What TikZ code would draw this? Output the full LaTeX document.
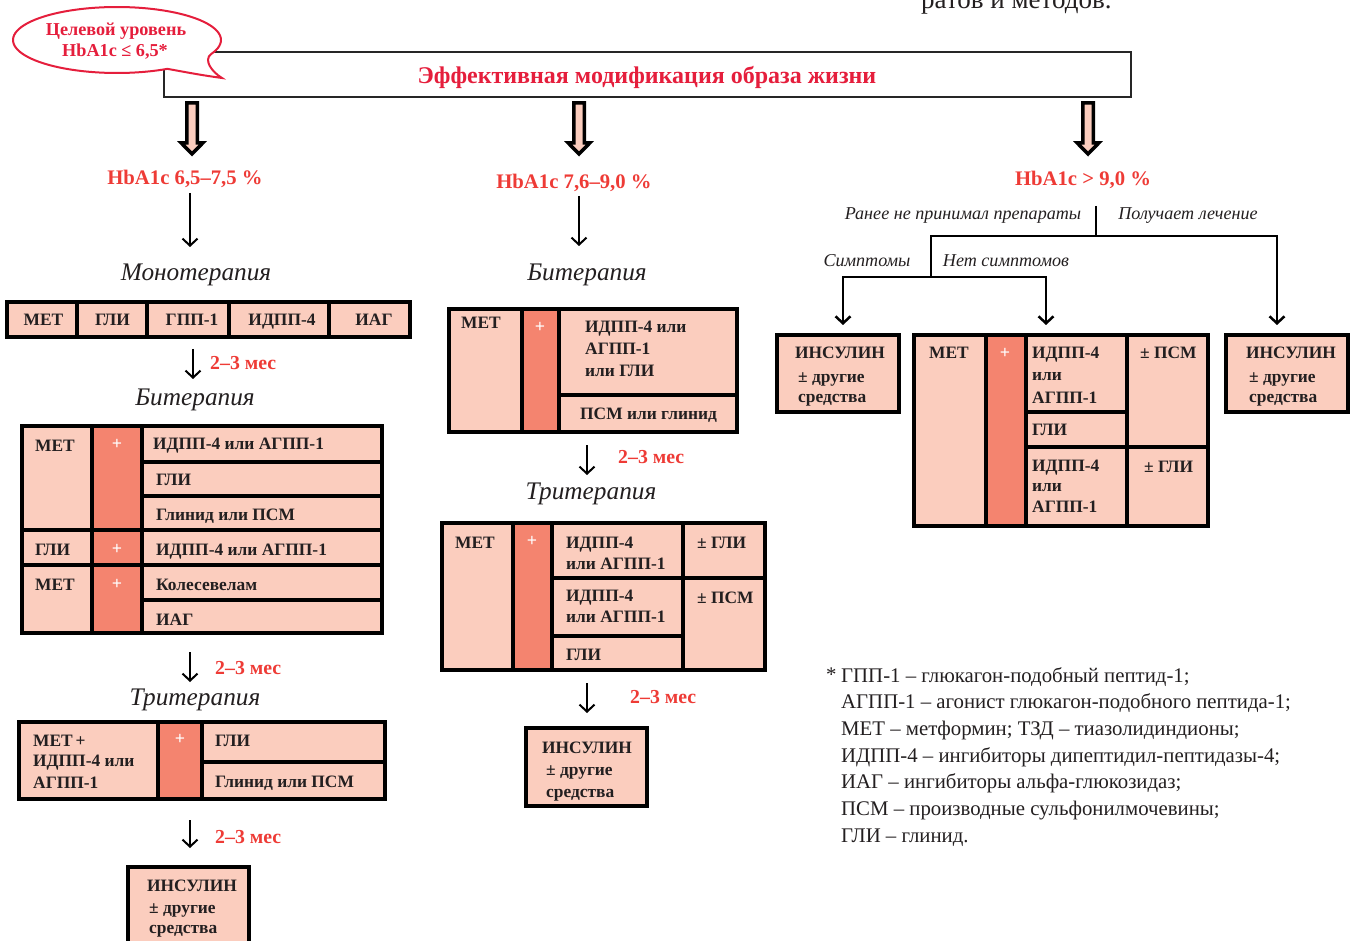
\documentclass[tikz,border=0pt]{standalone}
\usepackage{fontspec}
\setmainfont{Liberation Serif}
\usetikzlibrary{arrows.meta,fit}
\definecolor{pinkL}{HTML}{FBCDBE}
\definecolor{salm}{HTML}{F4846F}
\definecolor{redL}{HTML}{EE3B36}
\definecolor{crim}{HTML}{E51E3C}
\definecolor{txt}{HTML}{231F20}
\newcommand{\mkcell}[6]{\node[fit={(#2,#3) (#4,#5)}, inner sep=0pt, outer sep=0pt, fill=#6, draw=none] (#1) {};}
\newcommand{\txw}[4]{\node[tt,anchor=base west] (#1) at (#2,#3) {#4};}
\newcommand{\txc}[4]{\node[tt,anchor=base] (#1) at (#2,#3) {#4};}
\newcommand{\pls}[3]{\node[plus] (#1) at (#2,#3) {+};}
\newcommand{\blockarr}[1]{\draw[blockarrow] (#1) ++(-5.25,0) -- ++(0,40) -- ++(-5.5,0) -- ++(10.75,11) -- ++(10.75,-11) -- ++(-5.5,0) -- ++(0,-40) -- cycle;}
\begin{document}
\begin{tikzpicture}[x=1pt,y=-1pt,
  tbl/.style={draw=black, line width=3.5pt},
  tt/.style={font=\fontsize{17.4}{20}\selectfont\bfseries, text=txt, inner sep=0pt},
  plus/.style={font=\fontsize{18}{20}\selectfont\bfseries, text=white, inner sep=0pt},
  arr/.style={line width=2pt, -{Straight Barb[length=7pt,width=15pt]}},
  ln/.style={line width=2.5pt},
  lbl/.style={font=\fontsize{20.7}{24}\selectfont\bfseries, text=redL, inner sep=0pt, anchor=base},
  mes/.style={font=\fontsize{19.8}{22}\selectfont\bfseries, text=redL, inner sep=0pt, anchor=base west},
  head/.style={font=\fontsize{25.3}{28}\selectfont\itshape, text=txt, inner sep=0pt, anchor=base},
  cond/.style={font=\fontsize{18.1}{20}\selectfont\itshape, text=txt, inner sep=0pt, anchor=base},
  leg/.style={font=\fontsize{20.8}{24}\selectfont, text=txt, inner sep=0pt, anchor=base west},
  blockarrow/.style={draw=black, line width=3.5pt, fill=pinkL, line join=miter},
]
\useasboundingbox (0,0) rectangle (1355,941);
\clip (0,0) rectangle (1355,941);

% cut-off page text
\node[font=\fontsize{27}{30}\selectfont, text=txt, inner sep=0pt, anchor=base west] (toptext) at (921,9) {ратов и методов.};

% lifestyle box
\node[draw=black!85, line width=2pt, minimum width=967pt, minimum height=45pt, inner sep=0pt] (life) at (647.5,74.5) {};
\node[font=\fontsize{24}{28}\selectfont\bfseries, text=crim, inner sep=0pt, anchor=base] (lifetext) at (647,84) {Эффективная модификация образа жизни};

% callout
\draw[crim, line width=2pt, fill=white] plot[domain=61:385, samples=90, smooth] ({117+104*cos(\x)}, {40+33*sin(\x)})
  .. controls (203,60) and (212,72) .. (222,78) .. controls (200,75) and (185,72) .. cycle;
\node[font=\fontsize{18.2}{20}\selectfont\bfseries, text=crim, inner sep=0pt, anchor=base] (goal1) at (116,36) {Целевой уровень};
\node[font=\fontsize{18.2}{20}\selectfont\bfseries, text=crim, inner sep=0pt, anchor=base] (goal2) at (115,56.5) {HbA1c ≤ 6,5*};

% block arrows
\coordinate (ba1) at (192,103);
\coordinate (ba2) at (579,103);
\coordinate (ba3) at (1088,103);
\blockarr{ba1}
\blockarr{ba2}
\blockarr{ba3}

% ---------- LEFT COLUMN ----------
\node[lbl] (l1) at (185,184.5) {HbA1c 6,5–7,5 \%};
\coordinate (a1s) at (190,193); \coordinate (a1e) at (190,247);
\draw[arr] (a1s) -- (a1e);
\node[head] (mono) at (196,280.5) {Монотерапия};

\mkcell{m1}{7}{302}{77}{337}{pinkL}
\mkcell{m2}{77}{302}{147}{337}{pinkL}
\mkcell{m3}{147}{302}{229}{337}{pinkL}
\mkcell{m4}{229}{302}{329}{337}{pinkL}
\mkcell{m5}{329}{302}{410}{337}{pinkL}
\foreach \c in {m1,m2,m3,m4,m5} \draw[tbl] (\c.south west) rectangle (\c.north east);
\txc{m1t}{43.5}{325.5}{МЕТ}
\txc{m2t}{112.5}{325.5}{ГЛИ}
\txc{m3t}{192}{325.5}{ГПП-1}
\txc{m4t}{282}{325.5}{ИДПП-4}
\txc{m5t}{374}{325.5}{ИАГ}

\coordinate (a2s) at (193,349); \coordinate (a2e) at (193,379);
\draw[arr] (a2s) -- (a2e);
\node[mes] (mes1) at (210,369.5) {2–3 мес};
\node[head] (bi1) at (195,405.5) {Битерапия};

\mkcell{bM1}{22}{426}{92}{530}{pinkL}
\mkcell{bP1}{92}{426}{142}{530}{salm}
\mkcell{bR1}{142}{426}{382}{462}{pinkL}
\mkcell{bR2}{142}{462}{382}{496}{pinkL}
\mkcell{bR3}{142}{496}{382}{530}{pinkL}
\mkcell{bG}{22}{530}{92}{565}{pinkL}
\mkcell{bP2}{92}{530}{142}{565}{salm}
\mkcell{bR4}{142}{530}{382}{565}{pinkL}
\mkcell{bM2}{22}{565}{92}{633}{pinkL}
\mkcell{bP3}{92}{565}{142}{633}{salm}
\mkcell{bR5}{142}{565}{382}{600}{pinkL}
\mkcell{bR6}{142}{600}{382}{633}{pinkL}
\foreach \c in {bM1,bP1,bR1,bR2,bR3,bG,bP2,bR4,bM2,bP3,bR5,bR6} \draw[tbl] (\c.south west) rectangle (\c.north east);
\txw{bM1t}{35}{451}{МЕТ}
\pls{bP1t}{117}{444}
\txw{bR1t}{153}{449}{ИДПП-4 или АГПП-1}
\txw{bR2t}{156}{485}{ГЛИ}
\txw{bR3t}{156}{520}{Глинид или ПСМ}
\txw{bGt}{35}{555}{ГЛИ}
\pls{bP2t}{117}{549}
\txw{bR4t}{156}{555}{ИДПП-4 или АГПП-1}
\txw{bM2t}{35}{590}{МЕТ}
\pls{bP3t}{117}{584}
\txw{bR5t}{156}{590}{Колесевелам}
\txw{bR6t}{156}{625}{ИАГ}

\coordinate (a3s) at (190,652); \coordinate (a3e) at (190,682);
\draw[arr] (a3s) -- (a3e);
\node[mes] (mes2) at (215,674.5) {2–3 мес};
\node[head] (tri1) at (195,705.5) {Тритерапия};

\mkcell{tL}{19}{722}{158}{799}{pinkL}
\mkcell{tP}{158}{722}{202}{799}{salm}
\mkcell{tR1}{202}{722}{385}{762}{pinkL}
\mkcell{tR2}{202}{762}{385}{799}{pinkL}
\foreach \c in {tL,tP,tR1,tR2} \draw[tbl] (\c.south west) rectangle (\c.north east);
\txw{tLt1}{33}{746}{МЕТ\,+}
\txw{tLt2}{33}{766}{ИДПП-4 или}
\txw{tLt3}{33}{788}{АГПП-1}
\pls{tPt}{180}{739}
\txw{tR1t}{215}{746}{ГЛИ}
\txw{tR2t}{215}{787}{Глинид или ПСМ}

\coordinate (a4s) at (190,820); \coordinate (a4e) at (190,848);
\draw[arr] (a4s) -- (a4e);
\node[mes] (mes3) at (215,843.5) {2–3 мес};

\mkcell{insL}{128}{867}{249}{965}{pinkL}
\draw[tbl] (insL.south west) rectangle (insL.north east);
\txc{insLt1}{192}{891}{ИНСУЛИН}
\txw{insLt2}{149}{913}{± другие}
\txw{insLt3}{149}{933}{средства}

% ---------- MIDDLE COLUMN ----------
\node[lbl] (l2) at (574,188.5) {HbA1c 7,6–9,0 \%};
\coordinate (b1s) at (579,196); \coordinate (b1e) at (579,246);
\draw[arr] (b1s) -- (b1e);
\node[head] (bi2) at (587,280.5) {Битерапия};

\mkcell{cM}{449}{309}{522}{432}{pinkL}
\mkcell{cP}{522}{309}{559}{432}{salm}
\mkcell{cR1}{559}{309}{737}{395}{pinkL}
\mkcell{cR2}{559}{395}{737}{432}{pinkL}
\foreach \c in {cM,cP,cR1,cR2} \draw[tbl] (\c.south west) rectangle (\c.north east);
\txw{cMt}{461}{329}{МЕТ}
\pls{cPt}{540}{327}
\txw{cR1a}{585}{333}{ИДПП-4 или}
\txw{cR1b}{585}{355}{АГПП-1}
\txw{cR1c}{585}{377}{или ГЛИ}
\txw{cR2t}{580}{419}{ПСМ или глинид}

\coordinate (b2s) at (587,445); \coordinate (b2e) at (587,475);
\draw[arr] (b2s) -- (b2e);
\node[mes] (mes4) at (618,463.5) {2–3 мес};
\node[head] (tri2) at (591,499.5) {Тритерапия};

\mkcell{nM}{442}{523}{513}{670}{pinkL}
\mkcell{nP}{513}{523}{552}{670}{salm}
\mkcell{nR1}{552}{523}{683}{578}{pinkL}
\mkcell{nR2}{552}{578}{683}{636}{pinkL}
\mkcell{nR3}{552}{636}{683}{670}{pinkL}
\mkcell{nS1}{683}{523}{765}{578}{pinkL}
\mkcell{nS2}{683}{578}{765}{670}{pinkL}
\foreach \c in {nM,nP,nR1,nR2,nR3,nS1,nS2} \draw[tbl] (\c.south west) rectangle (\c.north east);
\txw{nMt}{455}{548}{МЕТ}
\pls{nPt}{532}{541}
\txw{nR1a}{566}{548}{ИДПП-4}
\txw{nR1b}{566}{569}{или АГПП-1}
\txw{nR2a}{566}{601}{ИДПП-4}
\txw{nR2b}{566}{622.5}{или АГПП-1}
\txw{nR3t}{566}{660}{ГЛИ}
\txw{nS1t}{697}{548}{± ГЛИ}
\txw{nS2t}{697}{603}{± ПСМ}

\coordinate (b3s) at (587,683); \coordinate (b3e) at (587,713);
\draw[arr] (b3s) -- (b3e);
\node[mes] (mes5) at (630,703.5) {2–3 мес};

\mkcell{insM}{526}{728}{647}{806}{pinkL}
\draw[tbl] (insM.south west) rectangle (insM.north east);
\txc{insMt1}{587}{753}{ИНСУЛИН}
\txw{insMt2}{546}{775}{± другие}
\txw{insMt3}{546}{797}{средства}

% ---------- RIGHT COLUMN ----------
\node[lbl] (l3) at (1083,185.5) {HbA1c > 9,0 \%};
\coordinate (s0) at (1096,206); \coordinate (s1) at (1096,236);
\coordinate (hL) at (931,236); \coordinate (hR) at (1277,236);
\coordinate (vB) at (931,277);
\coordinate (h2L) at (843,277); \coordinate (h2R) at (1046,277);
\coordinate (e1) at (843,325); \coordinate (e2) at (1046,325); \coordinate (e3) at (1277,325);
\draw[ln] (s0) -- (s1);
\draw[ln, line cap=rect] (hL) -- (hR);
\draw[ln] (hL) -- (vB);
\draw[ln, line cap=rect] (h2L) -- (h2R);
\draw[arr, line width=2.5pt] (h2L) -- (e1);
\draw[arr, line width=2.5pt] (h2R) -- (e2);
\draw[arr, line width=2.5pt] (hR) -- (e3);
\node[cond] (c1) at (963,220) {Ранее не принимал препараты};
\node[cond] (c2) at (1188,220) {Получает лечение};
\node[cond] (c3) at (867,267) {Симптомы};
\node[cond] (c4) at (1006,267) {Нет симптомов};

\mkcell{insR1}{777}{335}{899}{412}{pinkL}
\draw[tbl] (insR1.south west) rectangle (insR1.north east);
\txc{insR1a}{840}{359}{ИНСУЛИН}
\txw{insR1b}{798}{382}{± другие}
\txw{insR1c}{798}{402}{средства}

\mkcell{rM}{914}{335}{986}{526}{pinkL}
\mkcell{rP}{986}{335}{1026}{526}{salm}
\mkcell{rR1}{1026}{335}{1127}{412}{pinkL}
\mkcell{rR2}{1026}{412}{1127}{447}{pinkL}
\mkcell{rR3}{1026}{447}{1127}{526}{pinkL}
\mkcell{rS1}{1127}{335}{1208}{447}{pinkL}
\mkcell{rS2}{1127}{447}{1208}{526}{pinkL}
\foreach \c in {rM,rP,rR1,rR2,rR3,rS1,rS2} \draw[tbl] (\c.south west) rectangle (\c.north east);
\txc{rMt}{949}{359}{МЕТ}
\pls{rPt}{1005}{353}
\txw{rR1a}{1032}{359}{ИДПП-4}
\txw{rR1b}{1032}{381}{или}
\txw{rR1c}{1032}{403}{АГПП-1}
\txw{rR2t}{1032}{435}{ГЛИ}
\txw{rR3a}{1032}{471}{ИДПП-4}
\txw{rR3b}{1032}{491.5}{или}
\txw{rR3c}{1032}{512}{АГПП-1}
\txw{rS1t}{1140}{359}{± ПСМ}
\txw{rS2t}{1144}{472}{± ГЛИ}

\mkcell{insR2}{1226}{335}{1348}{412}{pinkL}
\draw[tbl] (insR2.south west) rectangle (insR2.north east);
\txc{insR2a}{1291}{359}{ИНСУЛИН}
\txw{insR2b}{1249}{382}{± другие}
\txw{insR2c}{1249}{402}{средства}

% ---------- LEGEND ----------
\node[leg] (star) at (826,681.5) {*};
\node[leg] (lg1) at (841,682) {ГПП-1 – глюкагон-подобный пептид-1;};
\node[leg] (lg2) at (841,708.7) {АГПП-1 – агонист глюкагон-подобного пептида-1;};
\node[leg] (lg3) at (841,735.4) {МЕТ – метформин; ТЗД – тиазолидиндионы;};
\node[leg] (lg4) at (841,762.1) {ИДПП-4 – ингибиторы дипептидил-пептидазы-4;};
\node[leg] (lg5) at (841,788.8) {ИАГ – ингибиторы альфа-глюкозидаз;};
\node[leg] (lg6) at (841,815.5) {ПСМ – производные сульфонилмочевины;};
\node[leg] (lg7) at (841,842.2) {ГЛИ – глинид.};
\end{tikzpicture}
\end{document}
